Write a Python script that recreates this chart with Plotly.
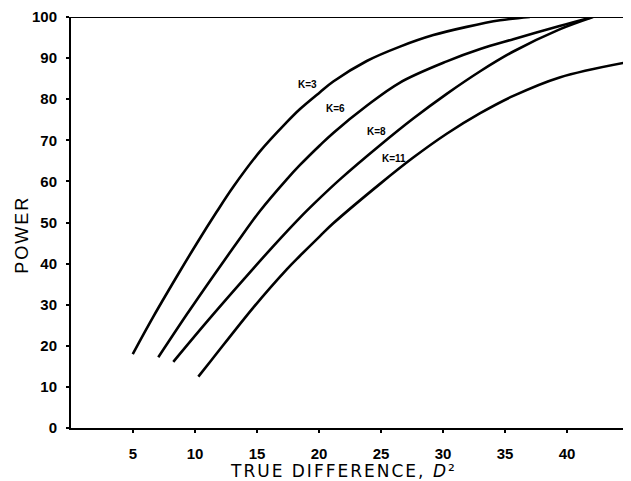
import plotly.graph_objects as go

# Data (D^2 vs power, %)
k3_x = [4.98, 6.64, 8.52, 10.14, 11.75, 13.09, 15.24, 17.40, 18.47, 20.08, 21.15, 23.85, 26.53, 29.22, 31.91, 34.6, 37.0]
k3_y = [18.0, 27.1, 36.8, 44.9, 52.6, 58.7, 67.3, 74.4, 77.6, 81.7, 84.3, 89.3, 92.8, 95.6, 97.6, 99.2, 100.0]

k6_x = [7.04, 9.33, 11.48, 13.36, 15.24, 17.40, 18.47, 20.08, 21.15, 23.85, 26.5, 30.3, 33.0, 35.67, 39.4, 41.85]
k6_y = [17.2, 27.6, 37.0, 45.0, 52.8, 60.5, 64.0, 68.8, 71.8, 78.4, 84.0, 89.2, 92.2, 94.6, 97.8, 99.8]

k8_x = [8.25, 11.0, 14.0, 16.3, 18.47, 19.81, 21.69, 24.92, 27.6, 30.3, 33.0, 35.67, 39.4, 42.1]
k8_y = [16.1, 26.0, 36.4, 44.2, 51.2, 55.2, 60.5, 68.8, 75.3, 81.3, 86.8, 91.6, 97.0, 100.0]

k11_x = [10.27, 11.35, 14.70, 17.40, 18.47, 20.08, 21.15, 24.92, 27.6, 30.3, 33.0, 35.67, 39.4, 44.68]
k11_y = [12.5, 16.6, 29.3, 38.6, 41.9, 46.7, 49.8, 59.4, 65.8, 71.6, 76.6, 80.8, 85.3, 88.9]

curve_labels = ["K=3", "K=6", "K=8", "K=11"]
label_x = [19.09, 21.29, 24.6, 26.05]
label_y = [83.6, 77.8, 72.2, 65.5]

x_ticks = [5, 10, 15, 20, 25, 30, 35, 40]
y_ticks = [0, 10, 20, 30, 40, 50, 60, 70, 80, 90, 100]

fig = go.Figure()
for xs, ys, name in zip([k3_x, k6_x, k8_x, k11_x], [k3_y, k6_y, k8_y, k11_y], curve_labels):
    fig.add_trace(go.Scatter(x=xs, y=ys, mode="lines", name=name,
                             line=dict(color="black", width=2.6, shape="spline", smoothing=1.0),
                             showlegend=False, hoverinfo="skip"))

for t, lx, ly in zip(curve_labels, label_x, label_y):
    fig.add_annotation(x=lx, y=ly, text=t, showarrow=False,
                       font=dict(family="Liberation Sans Narrow, Arial", size=10, color="black",
                                 weight="bold"))

fig.add_shape(type="line", xref="paper", x0=0, x1=1, yref="y", y0=100, y1=100,
              line=dict(color="black", width=2))

fig.add_annotation(text='<span style="letter-spacing:2px">POWER</span>', xref="paper", yref="paper",
                   x=0, y=0.47, xshift=-49,
                   xanchor="center", yanchor="middle", textangle=-90, showarrow=False,
                   font=dict(family="Liberation Sans, Arial", size=18, color="black"))
fig.add_annotation(text='<span style="letter-spacing:2px">TRUE DIFFERENCE, <i>D</i>²</span>',
                   xref="paper", yref="paper", x=0.486, y=0,
                   yshift=-43, xanchor="center", yanchor="middle", showarrow=False,
                   font=dict(family="DejaVu Sans", size=17, color="black"))

tick_font = dict(family="Liberation Sans, Arial", size=15, color="black", weight="bold")
fig.update_layout(
    width=623, height=473,
    margin=dict(l=63, r=0, t=9, b=53),
    paper_bgcolor="white", plot_bgcolor="white",
    xaxis=dict(range=[0, 45.16], tickvals=x_ticks, ticktext=[str(v) for v in x_ticks],
               showgrid=False, zeroline=False, showline=True, linecolor="black", linewidth=2,
               ticks="outside", ticklen=3, tickwidth=2, tickcolor="black", ticklabelstandoff=8,
               tickfont=tick_font),
    yaxis=dict(range=[0, 100], tickvals=y_ticks, ticktext=[str(v) for v in y_ticks],
               showgrid=False, zeroline=False, showline=True, linecolor="black", linewidth=2,
               ticks="outside", ticklen=3, tickwidth=2, tickcolor="black", ticklabelstandoff=6,
               tickfont=tick_font),
)

fig.write_html("out.html")
